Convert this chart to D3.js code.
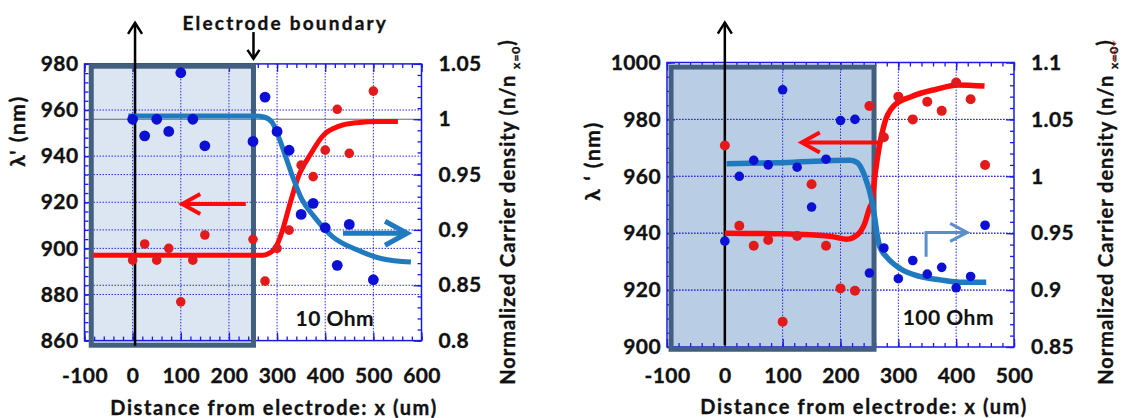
<!DOCTYPE html>
<html><head><meta charset="utf-8">
<script src="https://cdn.jsdelivr.net/npm/d3@7"></script>
<style>body{margin:0;background:#fff;} svg{display:block;} text{font-family:Lato,"Open Sans",sans-serif;}</style>
</head><body><svg id="c" width="1122" height="418"></svg>
<script>
// ---------------- data: 10 Ohm panel ----------------
const xTicks10 = [-100, 0, 100, 200, 300, 400, 500, 600];
const yTicksL10 = [860, 880, 900, 920, 940, 960, 980];
const yTicksR10 = [0.8, 0.85, 0.9, 0.95, 1, 1.05];
const x10 = [0, 25, 50, 75, 100, 125, 150, 250, 275, 300, 325, 350, 375, 400, 425, 450, 500];
const lambda10 = [894.9, 901.9, 894.9, 900.0, 876.8, 894.9, 905.8, 903.9, 885.8, 900.0, 907.9, 936.1, 931.1, 942.6, 960.3, 941.2, 968.2];
const density10 = [1.000, 0.985, 1.000, 0.989, 1.042, 1.000, 0.976, 0.980, 1.020, 0.989, 0.972, 0.914, 0.924, 0.902, 0.868, 0.905, 0.855];
const fitLambdaX10 = [-82, 270, 285, 296, 310, 325, 344, 370, 396, 429, 466, 510, 551];
const fitLambdaY10 = [897, 897, 898, 900, 907, 918, 931, 941, 949, 953, 954.5, 955, 955];
const fitDensityX10 = [-9, 255, 273, 290, 305, 318, 335, 351, 377, 415, 466, 518, 578];
const fitDensityY10 = [1.003, 1.003, 1.002, 0.997, 0.982, 0.966, 0.945, 0.928, 0.912, 0.894, 0.882, 0.874, 0.871];

// ---------------- data: 100 Ohm panel ----------------
const xTicks100 = [-100, 0, 100, 200, 300, 400, 500];
const yTicksL100 = [900, 920, 940, 960, 980, 1000];
const yTicksR100 = [0.85, 0.9, 0.95, 1, 1.05, 1.1];
const x100 = [0, 25, 50, 75, 100, 125, 150, 175, 200, 225, 250, 275, 300, 325, 350, 375, 400, 425, 450];
const lambda100 = [970.8, 942.6, 935.6, 937.6, 908.9, 939.0, 957.2, 935.6, 920.6, 919.8, 984.7, 973.7, 988.0, 980.0, 986.2, 983.0, 993.0, 987.1, 964.0];
const density100 = [0.943, 1.000, 1.014, 1.010, 1.076, 1.008, 0.973, 1.015, 1.049, 1.050, 0.915, 0.937, 0.910, 0.926, 0.914, 0.920, 0.902, 0.912, 0.957];
const fitLambdaX100 = [0, 100, 186, 211, 229, 242, 251, 254, 260, 267, 276, 291, 322, 366, 403, 449];
const fitLambdaY100 = [940, 939.8, 938.8, 937.9, 939.4, 943.5, 949.3, 950.5, 961, 970.4, 978.6, 984.5, 988, 990.6, 992.1, 991.7];
const fitDensityX100 = [3, 100, 217, 229, 242, 254, 259, 263, 268, 280, 303, 337, 372, 407, 452];
const fitDensityY100 = [1.011, 1.012, 1.014, 1.012, 1.000, 0.979, 0.964, 0.950, 0.938, 0.929, 0.919, 0.912, 0.909, 0.907, 0.907];

// ---------------- text ----------------
const xTitle = "Distance from electrode: x  (um)";
const rightTitleMain = "Normalized Carrier density  (n/n";
const rightTitleSub = "x=0";
const leftTitle10 = "λ'  (nm)";
const leftTitle100 = "λ ʻ  (nm)";
const label10 = "10 Ohm";
const label100 = "100 Ohm";
const electrodeLabel = "Electrode boundary";

const svg = d3.select("#c");
const BLUE_FRAME = "#1a1ae6";
const GRID = "#2a2ae8";
const INK = "#111";

function boldText(sel, size, spacing) {
  return sel.attr("font-size", size).attr("font-weight", 700).attr("fill", INK)
    .attr("stroke", INK).attr("stroke-width", 0.35).attr("letter-spacing", spacing || 0);
}

function arrow(g, x1, y1, x2, y2, color, w, back, half) {
  g.append("line").attr("x1", x1).attr("y1", y1).attr("x2", x2).attr("y2", y2)
    .attr("stroke", color).attr("stroke-width", w);
  const a = Math.atan2(y2 - y1, x2 - x1);
  const p = (dy) => [x2 - back * Math.cos(a) + dy * Math.sin(a), y2 - back * Math.sin(a) - dy * Math.cos(a)];
  const h1 = p(half), h2 = p(-half);
  g.append("path").attr("d", `M${h1[0]},${h1[1]}L${x2},${y2}L${h2[0]},${h2[1]}`)
    .attr("fill", "none").attr("stroke", color).attr("stroke-width", w)
    .attr("stroke-linejoin", "miter").attr("stroke-linecap", "butt");
}

function panel(c) {
  const g = svg.append("g");
  const x = d3.scaleLinear().domain(c.xDom).range(c.xRange);
  const yL = d3.scaleLinear().domain(c.yLDom).range([c.bottom, c.top]);
  const yR = d3.scaleLinear().domain(c.yRDom).range([c.bottom, c.top]);
  const [X0, X1] = c.xRange;

  // electrode box fill
  const bx0 = x(c.box[0]), bx1 = x(c.box[1]), by0 = yL(c.box[3]), by1 = yL(c.box[2]);
  g.append("rect").attr("x", bx0).attr("y", by0).attr("width", bx1 - bx0).attr("height", by1 - by0)
    .attr("fill", c.boxFill);

  // grid
  const grid = g.append("g").attr("stroke", GRID).attr("stroke-width", 1).attr("stroke-dasharray", "1.5,1.5");
  c.xTicks.slice(1, -1).forEach(v => grid.append("line").attr("x1", x(v)).attr("x2", x(v)).attr("y1", c.top).attr("y2", c.bottom));
  c.yLTicks.slice(1, -1).forEach(v => grid.append("line").attr("x1", X0).attr("x2", X1).attr("y1", yL(v)).attr("y2", yL(v)));
  c.yRTicks.slice(1, -1).filter(v => !(c.grayOne && v === 1)).forEach(v => grid.append("line").attr("x1", X0).attr("x2", X1).attr("y1", yR(v)).attr("y2", yR(v)));
  if (c.grayOne) {
    g.append("line").attr("x1", X0).attr("x2", X1).attr("y1", yR(1)).attr("y2", yR(1))
      .attr("stroke", "#6a6a6a").attr("stroke-width", 1.2);
  }

  // axes (ticks inward)
  const fmt = d => String(d);
  const styleAxis = (sel) => {
    sel.select(".domain").remove();
    sel.selectAll(".tick line").attr("stroke", BLUE_FRAME).attr("stroke-width", 1.3);
    boldText(sel.selectAll("text"), 21, 0.4);
  };
  const minor = (dom, step) => d3.range(dom[0], dom[1] + step / 2, step);
  const mk = (axis, transform) => g.append("g").attr("transform", transform).call(axis).call(styleAxis);
  // minor ticks
  mk(d3.axisBottom(x).tickValues(minor(c.xDom, c.xMinor)).tickSize(-4).tickFormat(""), `translate(0,${c.bottom})`);
  mk(d3.axisTop(x).tickValues(minor(c.xDom, c.xMinor)).tickSize(-4).tickFormat(""), `translate(0,${c.top})`);
  mk(d3.axisLeft(yL).tickValues(minor(c.yLDom, c.yLMinor)).tickSize(-4).tickFormat(""), `translate(${X0},0)`);
  mk(d3.axisRight(yR).tickValues(minor(c.yRDom, c.yRMinor)).tickSize(-4).tickFormat(""), `translate(${X1},0)`);
  // major ticks + labels
  mk(d3.axisBottom(x).tickValues(c.xTicks).tickSize(-8).tickPadding(c.xPad).tickFormat(fmt), `translate(0,${c.bottom})`);
  mk(d3.axisTop(x).tickValues(c.xTicks).tickSize(-8).tickFormat(""), `translate(0,${c.top})`);
  mk(d3.axisLeft(yL).tickValues(c.yLTicks).tickSize(-8).tickPadding(6).tickFormat(fmt), `translate(${X0},0)`);
  mk(d3.axisRight(yR).tickValues(c.yRTicks).tickSize(-8).tickPadding(17).tickFormat(fmt), `translate(${X1},0)`);

  // frame
  g.append("rect").attr("x", X0).attr("y", c.top).attr("width", X1 - X0).attr("height", c.bottom - c.top)
    .attr("fill", "none").attr("stroke", BLUE_FRAME).attr("stroke-width", 1.5);

  // box border
  g.append("rect").attr("x", bx0).attr("y", by0).attr("width", bx1 - bx0).attr("height", by1 - by0)
    .attr("fill", "none").attr("stroke", "#435f80").attr("stroke-width", 5);

  // black x=0 arrow
  arrow(g, x(c.zeroX), yL(c.zeroBottom), x(c.zeroX), yL(c.zeroTop), "#000", 2.5, 11, 7);

  // fitted curves
  const line = d3.line().curve(d3.curveMonotoneX);
  g.append("path").attr("d", line(c.fitLX.map((v, i) => [x(v), yL(c.fitLY[i])])))
    .attr("fill", "none").attr("stroke", "#ff0a0a").attr("stroke-width", c.fitW);
  g.append("path").attr("d", line(c.fitDX.map((v, i) => [x(v), yR(c.fitDY[i])])))
    .attr("fill", "none").attr("stroke", "#1f7ac0").attr("stroke-width", c.fitW);

  // points
  g.append("g").selectAll("circle").data(c.px).join("circle")
    .attr("cx", d => x(d)).attr("cy", (d, i) => yL(c.lam[i])).attr("r", c.rRed).attr("fill", "#e31a1c");
  g.append("g").selectAll("circle").data(c.px).join("circle")
    .attr("cx", d => x(d)).attr("cy", (d, i) => yR(c.dens[i])).attr("r", c.rBlue).attr("fill", "#0b10d4");

  // direction arrows
  const ra = c.redArrow;
  arrow(g, x(ra[0]), yL(ra[2]), x(ra[1]), yL(ra[2]), "#ff0a0a", 4, 18, 10);
  c.blueArrow(g, x, yR);

  // label
  g.append("text").attr("x", x(c.label[1])).attr("y", yR(c.label[2])).attr("text-anchor", "middle")
    .attr("dy", "0.35em").call(s => boldText(s, 21, 0.5)).attr("stroke-width", 0.1).text(c.label[0]);

  // titles
  g.append("text").attr("x", c.xTitlePos[0]).attr("y", c.xTitlePos[1]).attr("text-anchor", "middle")
    .attr("dy", "0.35em").call(s => boldText(s, 20, 1.6)).text(xTitle);
  g.append("text").attr("transform", `translate(${c.lTitlePos[0]},${c.lTitlePos[1]}) rotate(-90)`)
    .attr("text-anchor", "middle").attr("dy", "0.35em").call(s => boldText(s, 21, 1.5)).text(c.lTitle);
  const rt = g.append("text").attr("transform", `translate(${c.rTitlePos[0]},${c.rTitlePos[1]}) rotate(-90)`)
    .attr("text-anchor", "middle").attr("dy", "0.35em").call(s => boldText(s, 20, 1.0));
  rt.append("tspan").text(rightTitleMain + " ");
  rt.append("tspan").attr("font-size", 12).attr("dy", "0.45em").text(rightTitleSub);
  rt.append("tspan").attr("dy", "-0.3em").text(")");
  if (c.squiggle) {
    const node = rt.node();
    const total = node.getComputedTextLength();
    const n0 = (rightTitleMain + " ").length;
    const s = node.getSubStringLength(0, n0) - total / 2;
    const w = node.getSubStringLength(n0, rightTitleSub.length);
    let d = `M${s},8`;
    for (let k = 0; k <= w; k += 3) d += `L${s + k},${k % 6 === 0 ? 10 : 7}`;
    g.append("path").attr("transform", `translate(${c.rTitlePos[0]},${c.rTitlePos[1]}) rotate(-90)`)
      .attr("d", d).attr("fill", "none").attr("stroke", "#ff2020").attr("stroke-width", 1);
  }
  if (c.extra) c.extra(g, x, yL);
}

panel({
  xDom: [-100, 600], xRange: [84.5, 421.5], top: 63.9, bottom: 340.6,
  yLDom: [860, 980], yRDom: [0.8, 1.05],
  xTicks: xTicks10, yLTicks: yTicksL10, yRTicks: yTicksR10,
  xMinor: 20, yLMinor: 4, yRMinor: 0.01, xPad: 27,
  box: [-86, 251, 858, 979], boxFill: "#dce6f2", grayOne: true,
  zeroX: 5, zeroBottom: 857.8, zeroTop: 997.8,
  fitLX: fitLambdaX10, fitLY: fitLambdaY10, fitDX: fitDensityX10, fitDY: fitDensityY10, fitW: 5,
  px: x10, lam: lambda10, dens: density10, rRed: 4.8, rBlue: 5.4,
  redArrow: [235, 103, 919.2],
  blueArrow: (g, x, yR) => arrow(g, x(437), yR(0.897), x(570), yR(0.897), "#1f7ac0", 5, 22, 12),
  label: [label10, 420, 0.82],
  xTitlePos: [274, 408], lTitlePos: [18, 131], rTitlePos: [508, 212],
  lTitle: leftTitle10,
  extra: (g, x, yL) => {
    g.append("text").attr("x", x(317)).attr("y", 23).attr("text-anchor", "middle").attr("dy", "0.35em")
      .call(s => boldText(s, 19, 2.2)).text(electrodeLabel);
    arrow(g, x(251), yL(993.8), x(251), yL(982.2), "#000", 2.5, 9, 6);
  }
});

panel({
  xDom: [-100, 500], xRange: [667, 1014], top: 62.5, bottom: 347,
  yLDom: [900, 1000], yRDom: [0.85, 1.1],
  xTicks: xTicks100, yLTicks: yTicksL100, yRTicks: yTicksR100,
  xMinor: 20, yLMinor: 5, yRMinor: 0.01, xPad: 21,
  box: [-93, 258, 899.2, 998.4], boxFill: "#b9cde5", grayOne: false,
  zeroX: 0, zeroBottom: 900.7, zeroTop: 1014,
  fitLX: fitLambdaX100, fitLY: fitLambdaY100, fitDX: fitDensityX100, fitDY: fitDensityY100, fitW: 5.5,
  px: x100, lam: lambda100, dens: density100, rRed: 5, rBlue: 4.8,
  redArrow: [266, 133, 971.9],
  blueArrow: (g, x, yR) => {
    g.append("line").attr("x1", x(348)).attr("x2", x(348)).attr("y1", yR(0.9293)).attr("y2", yR(0.9507))
      .attr("stroke", "#5b8fc9").attr("stroke-width", 3);
    arrow(g, x(348) - 1.5, yR(0.9507), x(419), yR(0.9507), "#5b8fc9", 3, 17, 9);
  },
  label: [label100, 386.5, 0.876],
  xTitlePos: [864, 407], lTitlePos: [593, 161], rTitlePos: [1106, 212],
  lTitle: leftTitle100, squiggle: true
});
</script></body></html>
